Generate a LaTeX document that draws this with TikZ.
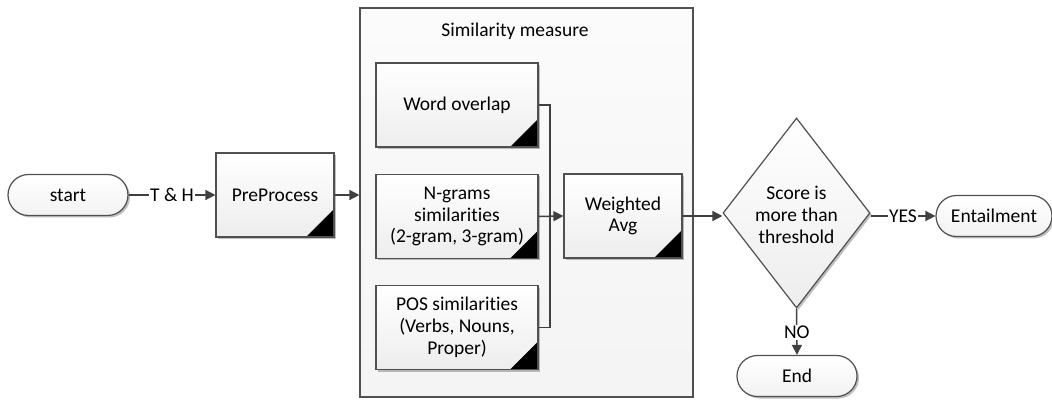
\documentclass[tikz,border=0pt]{standalone}
\usepackage{fontspec}
\setmainfont{Carlito}[Ligatures=NoCommon]
\usetikzlibrary{arrows.meta,shapes.geometric,shadows}
\definecolor{lin}{HTML}{404040}
\definecolor{edgec}{HTML}{505050}
\begin{document}
\begin{tikzpicture}[x=0.5pt,y=-0.5pt,
  font=\fontsize{9.75}{10.9}\selectfont,
  every node/.style={inner sep=0pt, align=center},
  shd/.style={drop shadow={shadow xshift=1pt,shadow yshift=-1pt,fill=black,opacity=0.25}},
  procbox/.style={rectangle, draw=edgec, line width=0.6pt, shd,
    top color=white, bottom color=gray!14,
    minimum height=42pt,
    path picture={\fill[black] (path picture bounding box.south east) -- ++(-14pt,0) -- ++(14pt,14pt) -- cycle;}},
  term/.style={rectangle, rounded corners=10.25pt, draw=edgec, line width=0.6pt, shd,
    top color=white, bottom color=gray!10, minimum height=20.5pt},
  decision/.style={diamond, draw=edgec, line width=0.6pt, shd,
    top color=white, bottom color=gray!14, minimum width=73.5pt, minimum height=95pt},
  conn/.style={draw=lin, line width=0.75pt},
  arr/.style={conn, -{Triangle[length=5pt,width=5pt]}},
  lbl/.style={fill=white, inner sep=0.5pt}
]
\useasboundingbox (0,0) rectangle (1052,400);
% container
\node[rectangle, draw=edgec, line width=0.6pt, top color=gray!3, bottom color=gray!9,
  minimum width=166.5pt, minimum height=194.5pt] (sim) at (526.5,202.5) {};
\node (simt) at (515,31) {Similarity measure};
% nodes
\node[term, minimum width=60pt] (start) at (68,195) {start};
\node[procbox, minimum width=59pt] (pre) at (275,195) {PreProcess};
\node[procbox, minimum width=81pt] (word) at (457,105) {Word overlap};
\node[procbox, minimum width=81pt] (ngram) at (457,216.5) {N-grams\\similarities\\(2-gram, 3-gram)};
\node[procbox, minimum width=81pt] (pos) at (457,327.5) {POS similarities\\(Verbs, Nouns,\\Proper)};
\node[procbox, minimum width=59pt] (wavg) at (623,216) {Weighted\\Avg};
\node[decision] (dec) at (796.5,213) {};
\node (dect) at (796.5,215) {Score is\\more than\\threshold};
\node[term, minimum width=58pt] (ent) at (994,216) {Entailment};
\node[term, minimum width=60pt] (end) at (797,376) {End};
% connectors
\draw[arr] (start.east) -- node[lbl] {T \& H} (pre.west);
\draw[arr] (pre.east) -- (pre.east -| sim.west);
\coordinate (bt) at (550,105);
\coordinate (bb) at (550,327.5);
\draw[conn] (word.east) -- (bt) -- (bb) -- (pos.east);
\draw[arr] (ngram.east) -- (wavg.west);
\draw[arr] (wavg.east) -- (wavg.east -| dec.west);
\draw[arr] (dec.east |- ent.west) -- node[lbl] {YES} (ent.west);
\draw[arr] (dec.south) -- node[lbl, pos=0.52] {NO} (end.north);
\end{tikzpicture}
\end{document}
